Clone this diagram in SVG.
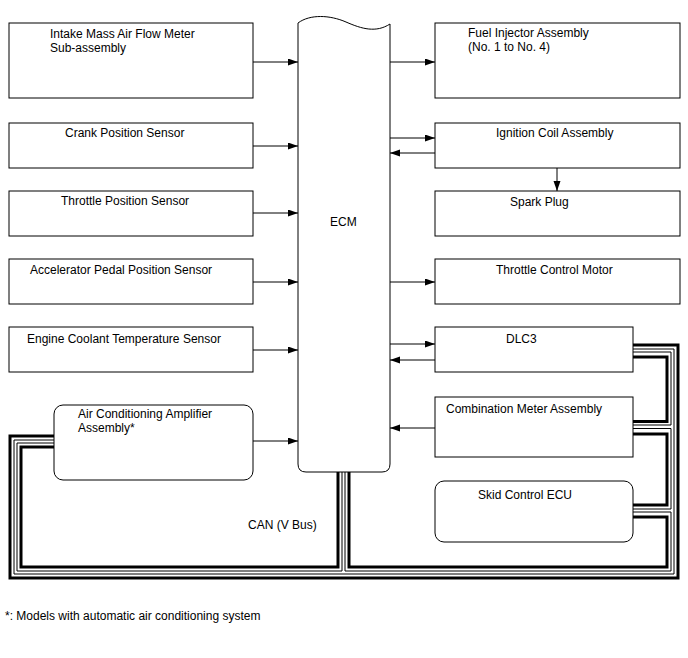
<svg xmlns="http://www.w3.org/2000/svg" width="688" height="658" viewBox="0 0 688 658">
<style>
.box{fill:#fff;stroke:#000;stroke-width:1}
text{font-family:"Liberation Sans",Arial,sans-serif;font-size:12px;fill:#000}
.ar{stroke:#000;stroke-width:1;fill:none}
.thick{stroke:#000;stroke-width:3;fill:none}
.thin{stroke:#000;stroke-width:1;fill:none}
</style>
<defs>
<marker id="ah" markerUnits="userSpaceOnUse" markerWidth="10" markerHeight="8" refX="10" refY="3.5" orient="auto">
<path d="M0,0 L10,3.5 L0,7 z" fill="#000"/>
</marker>
</defs>
<rect width="688" height="658" fill="#fff"/>
<g id="connectors">
<path class="thick" d="M633,345 H678 V578 H10 V436 H54"/>
<path class="thin" d="M633,349 H674 V574 H14 V440 H54"/>
<path class="thin" d="M54,443 H17 V571 H342 V472"/>
<path class="thin" d="M345,472 V571 H671 V512 H633"/>
<path class="thick" d="M54,447 H21 V567 H338 V470"/>
<path class="thick" d="M349,470 V567 H667 V517 H633"/>
<path class="thick" d="M633,505 H667 V434 H633"/>
<path class="thin" d="M633,509 H671 V428.5 H633"/>
<path class="thick" d="M633,421.5 H667 V357 H633"/>
<path class="thin" d="M633,425 H671 V352 H633"/>
<line class="ar" x1="253" y1="62" x2="298" y2="62" marker-end="url(#ah)"/>
<line class="ar" x1="253" y1="146" x2="298" y2="146" marker-end="url(#ah)"/>
<line class="ar" x1="253" y1="213" x2="298" y2="213" marker-end="url(#ah)"/>
<line class="ar" x1="253" y1="282" x2="298" y2="282" marker-end="url(#ah)"/>
<line class="ar" x1="253" y1="350" x2="298" y2="350" marker-end="url(#ah)"/>
<line class="ar" x1="253" y1="441" x2="298" y2="441" marker-end="url(#ah)"/>
<line class="ar" x1="390" y1="62" x2="435" y2="62" marker-end="url(#ah)"/>
<line class="ar" x1="390" y1="138" x2="435" y2="138" marker-end="url(#ah)"/>
<line class="ar" x1="435" y1="153" x2="390" y2="153" marker-end="url(#ah)"/>
<line class="ar" x1="557" y1="168" x2="557" y2="191" marker-end="url(#ah)"/>
<line class="ar" x1="390" y1="282" x2="435" y2="282" marker-end="url(#ah)"/>
<line class="ar" x1="390" y1="344" x2="435" y2="344" marker-end="url(#ah)"/>
<line class="ar" x1="435" y1="360" x2="390" y2="360" marker-end="url(#ah)"/>
<line class="ar" x1="435" y1="428" x2="390" y2="428" marker-end="url(#ah)"/>
</g>
<g id="maf"><rect class="box" x="9" y="23" width="244" height="75"/><text x="50" y="38">Intake Mass Air Flow Meter</text><text x="50" y="52">Sub-assembly</text></g>
<g id="crank"><rect class="box" x="9" y="123" width="244" height="45"/><text x="65" y="137">Crank Position Sensor</text></g>
<g id="tps"><rect class="box" x="9" y="191" width="244" height="45"/><text x="61" y="205">Throttle Position Sensor</text></g>
<g id="apps"><rect class="box" x="9" y="259" width="244" height="45"/><text x="30" y="274">Accelerator Pedal Position Sensor</text></g>
<g id="ect"><rect class="box" x="9" y="327" width="244" height="45"/><text x="27" y="343">Engine Coolant Temperature Sensor</text></g>
<g id="ac"><rect class="box" x="54" y="405" width="199" height="75" rx="9"/><text x="78" y="418">Air Conditioning Amplifier</text><text x="78" y="432">Assembly*</text></g>
<g id="ecm"><path class="box" d="M298,23 C310,14 330,15 346,22 C362,29 376,33 390,24 V464 Q390,472 382,472 H306 Q298,472 298,464 Z"/><text x="330" y="226">ECM</text></g>
<g id="inj"><rect class="box" x="435" y="23" width="245" height="75"/><text x="468" y="37">Fuel Injector Assembly</text><text x="468" y="51">(No. 1 to No. 4)</text></g>
<g id="ign"><rect class="box" x="435" y="123" width="245" height="45"/><text x="496" y="137">Ignition Coil Assembly</text></g>
<g id="spark"><rect class="box" x="435" y="191" width="245" height="45"/><text x="510" y="206">Spark Plug</text></g>
<g id="tcm"><rect class="box" x="435" y="259" width="245" height="45"/><text x="496" y="274">Throttle Control Motor</text></g>
<g id="dlc3"><rect class="box" x="435" y="327" width="198" height="45"/><text x="506" y="343">DLC3</text></g>
<g id="combo"><rect class="box" x="435" y="397" width="198" height="60"/><text x="446" y="413">Combination Meter Assembly</text></g>
<g id="skid"><rect class="box" x="435" y="481" width="198" height="61" rx="9"/><text x="478" y="499">Skid Control ECU</text></g>
<text x="248" y="529">CAN (V Bus)</text>
<text x="5" y="620">*: Models with automatic air conditioning system</text>
</svg>
